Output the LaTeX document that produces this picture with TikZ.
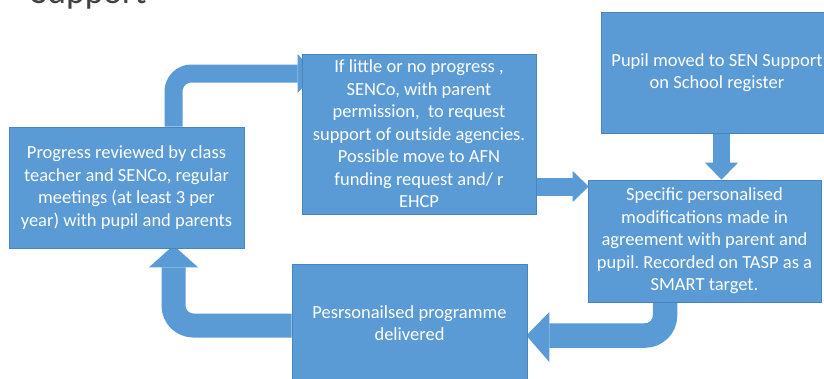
\documentclass[tikz,border=0pt]{standalone}
\usepackage{fontspec}
\setmainfont{Carlito}
\usetikzlibrary{calc,backgrounds}
\definecolor{boxblue}{HTML}{5B9BD5}
\definecolor{edgeblue}{HTML}{4A84BD}
\definecolor{titlegray}{HTML}{404040}
\frenchspacing
\begin{document}
\begin{tikzpicture}[x=1pt,y=-1pt,
  box/.style={fill=boxblue,draw=edgeblue,line width=0.6pt,text=white,align=center,
    inner sep=0pt,font=\fontsize{18.5}{22.5}\selectfont},
  shaft/.style={draw=boxblue,line cap=butt},
  head/.style={fill=boxblue}]
\useasboundingbox (0,0) rectangle (824,378);
\clip (0,0) rectangle (824,378);
\node[anchor=base west,inner sep=0pt,text=titlegray,font=\fontsize{35.5}{40}\selectfont] (title) at (31,3) {Support};
\node[box,minimum width=235pt,minimum height=121pt] (b1) at (126.5,187.5)
  {Progress reviewed by class\\ teacher and SENCo, regular\\ meetings (at least 3 per\\ year) with pupil and parents};
\node[box,minimum width=234pt,minimum height=160pt] (b2) at (419,134)
  {If little or no progress ,\\ SENCo, with parent\\ permission,~ to request\\ support of outside agencies.\\ Possible move to AFN\\ funding request and/ r\\ EHCP};
\node[box,minimum width=232pt,minimum height=121pt] (b3) at (717,72.5)
  {Pupil moved to SEN Support\\ on School register};
\node[box,minimum width=233pt,minimum height=122pt] (b4) at (704.5,241)
  {Specific personalised\\ modifications made in\\ agreement with parent and\\ pupil. Recorded on TASP as a\\ SMART target.};
\node[box,minimum width=235pt,minimum height=118pt] (b5) at (409.5,323)
  {Pesrsonailsed programme\\ delivered};
\begin{pgfonlayer}{background}
% b1 -> b2
\draw[shaft,line width=18pt,rounded corners=18pt] ($(b1.north)+(47,0)$) |- ($(b2.west)+(-4,-60.5)$);
\fill[head] ($(b2.west)+(-4,-80)$) -- ($(b2.west)+(13,-60.5)$) -- ($(b2.west)+(-4,-41)$) -- cycle;
% b2 -> b4
\draw[shaft,line width=18pt] ($(b2.east)+(0,52.5)$) -- ($(b4.west)+(-15,-54.5)$);
\fill[head] ($(b4.west)+(-15,-70)$) -- ($(b4.west)+(1,-54.5)$) -- ($(b4.west)+(-15,-39)$) -- cycle;
% b3 -> b4
\draw[shaft,line width=17pt] ($(b3.south)+(4.5,0)$) -- ($(b4.north)+(17,-17)$);
\fill[head] ($(b4.north)+(0.5,-17)$) -- ($(b4.north)+(17,0)$) -- ($(b4.north)+(33.5,-17)$) -- cycle;
% b4 -> b5
\draw[shaft,line width=24.5pt,rounded corners=20pt] ($(b4.south)+(-39.5,0)$) |- ($(b5.east)+(22,12.5)$);
\fill[head] ($(b5.east)+(22,-11)$) -- ($(b5.east)+(-1,12.5)$) -- ($(b5.east)+(22,39)$) -- cycle;
% b5 -> b1
\draw[shaft,line width=24pt,rounded corners=20pt] ($(b5.west)+(0,2.5)$) -| ($(b1.south)+(47,19)$);
\fill[head] ($(b1.south)+(22.5,19)$) -- ($(b1.south)+(47,-3)$) -- ($(b1.south)+(71.5,19)$) -- cycle;
\end{pgfonlayer}
\end{tikzpicture}
\end{document}
